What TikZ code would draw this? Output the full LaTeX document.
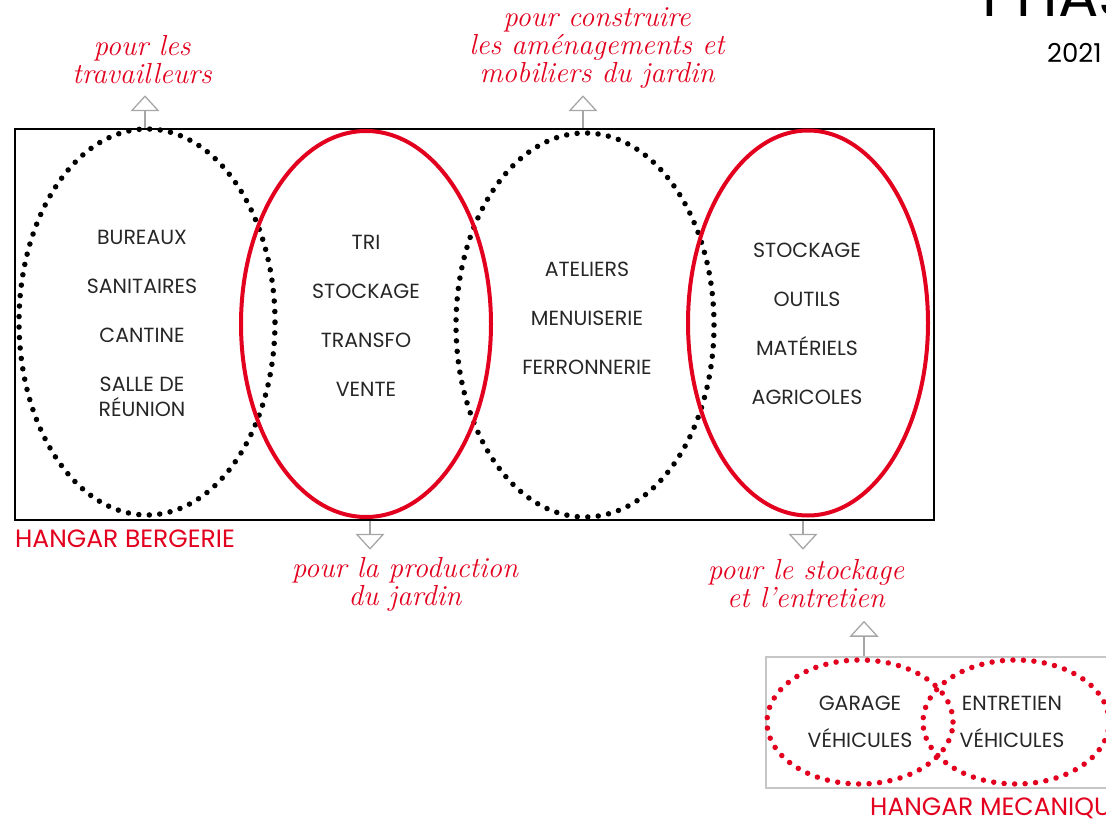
\documentclass[tikz,border=0pt]{standalone}
\usepackage{fontspec}
\usetikzlibrary{shapes.geometric, arrows.meta}
\newfontfamily\plainfont{Poppins}
\definecolor{hangarred}{RGB}{226,0,30}

\begin{document}
\begin{tikzpicture}[x=1pt, y=-1pt,
	txt/.style      = {font=\plainfont\fontsize{20.5}{49}\selectfont, text=black!85, align=center},
	hand/.style     = {font=\itshape\fontsize{29}{28}\selectfont, text=hangarred, align=center},
	title/.style    = {font=\plainfont\fontsize{25}{28}\selectfont, text=hangarred, anchor=west, inner sep=0pt},
	dot_ell/.style  = {draw, ellipse, line width=5.5pt, dash pattern=on 0pt off 10.5pt, line cap=round, inner sep=0pt},
	red_ell/.style  = {draw=hangarred, ellipse, line width=4pt, inner sep=0pt},
	hollow/.style   = {draw=gray!70, line width=1.3pt, -{Triangle[open, length=16pt, width=29pt]}},]
	
	\useasboundingbox (0,0) rectangle (1106,821);
	\clip (0,0) rectangle (1106,821);
	
	%% TITLE
	\node[font=\plainfont\fontsize{60}{60}\selectfont, anchor=base west, inner sep=0pt] (phase) at (982,17) {PHASE};
	\node[font=\plainfont\fontsize{26}{28}\selectfont, anchor=west, inner sep=0pt] (year) at (1047,53) {2021};
	
	%% HANGAR BERGERIE
	\node[draw, line width=1.5pt, minimum width=919pt, minimum height=391pt, inner sep=0pt] (bergerie) at (474.5,324.5) {};
	\node[title] (bergerie_lbl) at (15,539) {HANGAR BERGERIE};
	
	\node[dot_ell, minimum width=256pt, minimum height=386pt] (bureaux) at (147,322) {};
	\node[dot_ell, minimum width=258pt, minimum height=384pt] (ateliers) at (585,325) {};
	\node[red_ell, minimum width=250pt, minimum height=386pt] (tri) at (366,324) {};
	\node[red_ell, minimum width=240pt, minimum height=385pt] (outils) at (808,323) {};
	
	\node[txt] at (142,323) {BUREAUX\\SANITAIRES\\CANTINE\\SALLE DE\\[-24pt]RÉUNION};
	\node[txt] at (366,316) {TRI\\STOCKAGE\\TRANSFO\\VENTE};
	\node[txt] at (587,318) {ATELIERS\\MENUISERIE\\FERRONNERIE};
	\node[txt] at (807,324) {STOCKAGE\\OUTILS\\MATÉRIELS\\AGRICOLES};
	
	%% HANGAR MECANIQUE
	\node[draw=gray!45, line width=2.5pt, minimum width=364pt, minimum height=131pt, inner sep=0pt] (mecanique) at (948,722.5) {};
	\node[dot_ell, draw=hangarred, minimum width=186pt, minimum height=124pt] (garage) at (860,722) {};
	\node[dot_ell, draw=hangarred, minimum width=186pt, minimum height=124pt] (entretien) at (1016,722) {};
	\node[txt, font=\plainfont\fontsize{20.5}{37}\selectfont] at (860,722) {GARAGE\\VÉHICULES};
	\node[txt, font=\plainfont\fontsize{20.5}{37}\selectfont] at (1012,722) {ENTRETIEN\\VÉHICULES};
	\node[title] (mecanique_lbl) at (870,808) {HANGAR MECANIQUE};
	
	%% HANDWRITTEN NOTES
	\node[hand] (travail) at (142,60) {pour les\\travailleurs};
	\node[hand] (construire) at (597,48) {pour construire\\les aménagements et\\mobiliers du jardin};
	\node[hand] (production) at (405,584) {pour la production\\du jardin};
	\node[hand] (stockage) at (806,584) {pour le stockage\\et l'entretien};
	
	%% ARROWS
	\draw[hollow] (bergerie.north -| 145,0) -- ++(0,-33);
	\draw[hollow] (bergerie.north -| 583,0) -- ++(0,-33);
	\draw[hollow] (bergerie.south -| 370,0) -- ++(0,29);
	\draw[hollow] (bergerie.south -| 803,0) -- ++(0,29);
	\draw[hollow] (mecanique.north -| 864,0) -- ++(0,-35);
\end{tikzpicture}
\end{document}
